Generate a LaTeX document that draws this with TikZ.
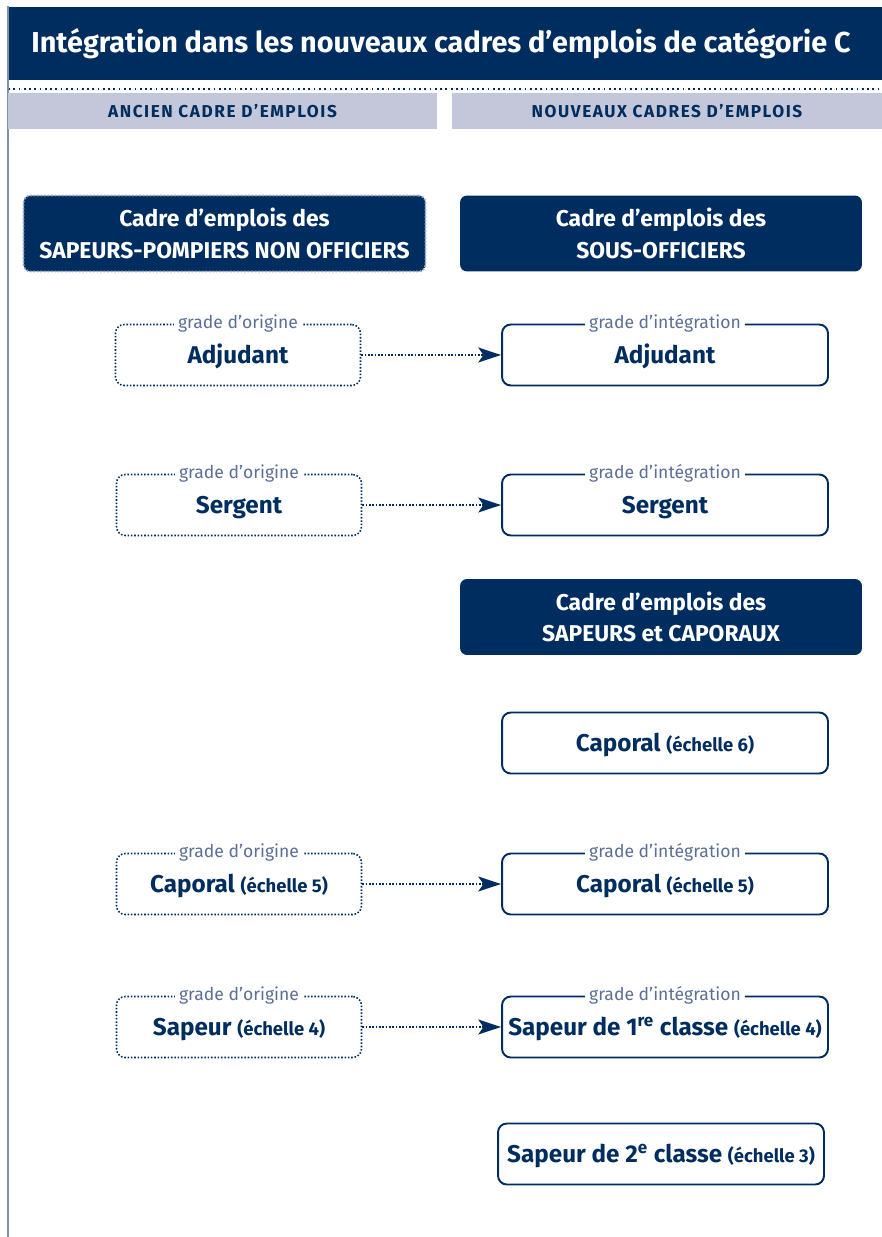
\documentclass[tikz,border=0pt]{standalone}
\usepackage{fontspec}
\setmainfont{Fira Sans}
\usetikzlibrary{positioning,calc,arrows.meta}
\definecolor{navy}{HTML}{002D5F}
\definecolor{headgrey}{HTML}{C3C7D9}
\definecolor{railblue}{HTML}{7A92AA}
\definecolor{labelblue}{HTML}{5C6F96}
\definecolor{dotgrey}{HTML}{9AA8C4}

\begin{document}
\begin{tikzpicture}[x=0.02cm,y=-0.02cm,
    cadre/.style={rectangle,rounded corners=4pt,fill=navy,text=white,align=center,
        font=\bfseries\fontsize{13}{18}\selectfont,minimum width=8.04cm,minimum height=1.52cm},
    origine/.style={rectangle,rounded corners=5pt,draw=navy,densely dotted,line width=0.9pt,
        text=navy,font=\bfseries\fontsize{13.8}{15}\selectfont,text height=13pt,text depth=3pt,
        minimum width=4.9cm,minimum height=1.22cm},
    integ/.style={rectangle,rounded corners=5pt,draw=navy,line width=1.1pt,
        text=navy,font=\bfseries\fontsize{13.8}{15}\selectfont,text height=13pt,text depth=3pt,
        minimum width=6.52cm,minimum height=1.22cm},
    tag/.style={fill=white,text=labelblue,font=\fontsize{10}{11}\selectfont,inner sep=2.5pt},
    colhead/.style={rectangle,fill=headgrey,text=navy,minimum height=0.72cm,
        font=\bfseries\fontsize{9.8}{11}\selectfont\addfontfeature{LetterSpace=9}},
    passage/.style={densely dotted,line width=0.9pt,draw=navy,-{Stealth[length=13pt,width=8.5pt,inset=3pt]}}]
\newcommand{\ech}[1]{{\fontsize{10.5}{12}\selectfont(échelle #1)}}
\useasboundingbox (0,0) rectangle (882,1237);

%Header
    \fill[navy] (8,7) rectangle (882,80);
    \node[text=white,font=\bfseries\fontsize{16.4}{19}\selectfont] (title) at (441,44)
        {Intégration dans les nouveaux cadres d’emplois de catégorie C};
    \draw[navy,line width=1pt,dotted] (8,89) -- (882,89);
    \draw[railblue,line width=1.6pt] (8,6) -- (8,1237);
    \node[colhead,minimum width=8.58cm] (ancien) at (222.5,111) {ANCIEN CADRE D’EMPLOIS};
    \node[colhead,minimum width=8.6cm] (nouveaux) at (667,111) {NOUVEAUX CADRES D’EMPLOIS};

%Cadres
    \node[cadre,draw=dotgrey,densely dotted,line width=1pt] (spno) at (224.5,233.5)
        {Cadre d’emplois des\\SAPEURS-POMPIERS NON OFFICIERS};
    \node[cadre] (so) at (661,233.5) {Cadre d’emplois des\\SOUS-OFFICIERS};
    \node[cadre] (sc) at (661,617) {Cadre d’emplois des\\SAPEURS et CAPORAUX};

%Grades d'origine
    \node[origine] (adjO) at (238,355) {Adjudant};
    \node[origine] (serO) at (239,505) {Sergent};
    \node[origine] (capO) at (239,884) {Caporal \ech{5}};
    \node[origine] (sapO) at (239,1027) {Sapeur \ech{4}};
    \foreach \g in {adjO,serO,capO,sapO}
        \node[tag] at (\g.north) {grade d’origine};

%Grades d'integration
    \node[integ] (adjI) at (665,355) {Adjudant};
    \node[integ] (serI) at (665,505) {Sergent};
    \node[integ] (capsix) at (665,743) {Caporal \ech{6}};
    \node[integ] (capI) at (665,884) {Caporal \ech{5}};
    \node[integ] (sapI) at (665,1027) {Sapeur de 1\textsuperscript{re} classe \ech{4}};
    \node[integ] (sapdeux) at (661,1154) {Sapeur de 2\textsuperscript{e} classe \ech{3}};
    \foreach \g in {adjI,serI,capI,sapI}
        \node[tag] at (\g.north) {grade d’intégration};

%Passages
    \draw[passage] (adjO) -- (adjI);
    \draw[passage] (serO) -- (serI);
    \draw[passage] (capO) -- (capI);
    \draw[passage] (sapO) -- (sapI);
\end{tikzpicture}
\end{document}
